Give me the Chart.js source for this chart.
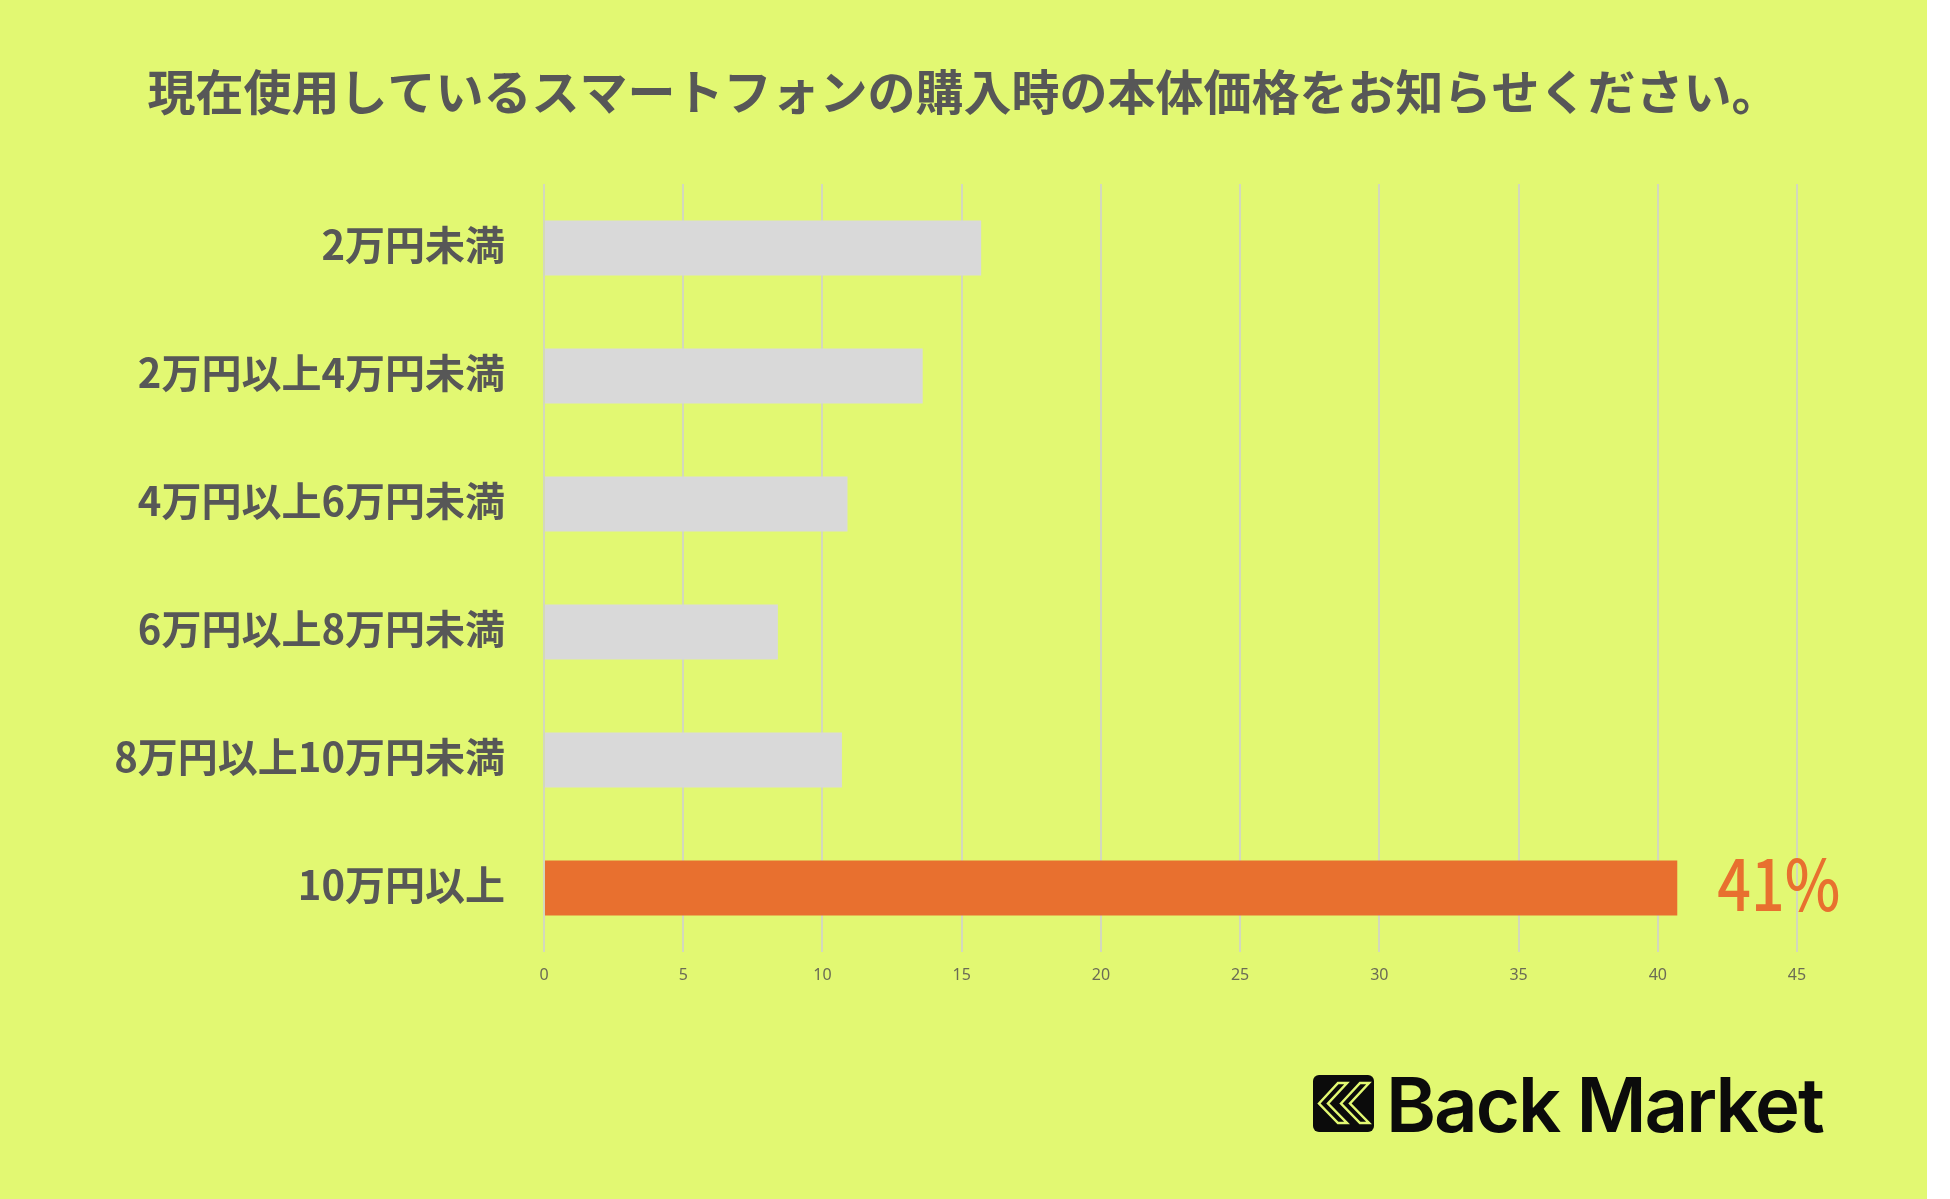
<!DOCTYPE html>
<html lang="ja">
<head>
<meta charset="utf-8">
<title>スマートフォン購入時の本体価格</title>
<script src="https://cdn.jsdelivr.net/npm/chart.js@4.4.1/dist/chart.umd.min.js"></script>
<style>
  html, body { margin: 0; padding: 0; background: #ffffff; }
  #wrap { width: 1927px; height: 1199px; background: #e2f872; }
  canvas { display: block; }
</style>
</head>
<body>
<div id="wrap"><canvas id="hargaChart" width="1927" height="1199"></canvas></div>
<script>
// Data kategori harga dan persentase
const titleText = '現在使用しているスマートフォンの購入時の本体価格をお知らせください。';
const categories = ['2万円未満', '2万円以上4万円未満', '4万円以上6万円未満', '6万円以上8万円未満', '8万円以上10万円未満', '10万円以上'];
const percentages = [15.7, 13.6, 10.9, 8.4, 10.7, 40.7];
const highlightIndex = 5;          // bar yang diberi warna oranye
const highlightLabel = '41%';
const axisMin = 0;
const axisMax = 45;
const axisStep = 5;

const jpFont = '"Noto Sans CJK JP", "Noto Sans", sans-serif';
const bgYellow = '#e2f872';
const orange = '#e8702f';
const grey = '#d9d9d9';
const textGrey = '#575757';

// Plugin kecil untuk judul, label 41% dan logo Back Market
const overlayPlugin = {
  id: 'overlay',
  afterDatasetsDraw(chart) {
    const bar = chart.getDatasetMeta(0).data[highlightIndex];
    const ctx = chart.ctx;
    ctx.save();
    ctx.fillStyle = orange;
    ctx.font = '500 70px ' + jpFont;
    ctx.textAlign = 'left';
    ctx.textBaseline = 'middle';
    ctx.fillText(highlightLabel, bar.x + 40, bar.y - 4, 123);
    ctx.restore();
  },
  afterDraw(chart) {
    const ctx = chart.ctx;
    ctx.save();

    // judul di tengah kanvas
    ctx.fillStyle = textGrey;
    ctx.font = 'bold 48px ' + jpFont;
    ctx.textAlign = 'center';
    ctx.textBaseline = 'middle';
    ctx.fillText(titleText, chart.width / 2, 92);

    // kotak ikon logo
    const x = 1313, y = 1075, w = 61, h = 57;
    ctx.fillStyle = '#0b0b0b';
    ctx.beginPath();
    ctx.roundRect(x, y, w, h, 6);
    ctx.fill();

    // dua chevron
    ctx.strokeStyle = bgYellow;
    ctx.lineWidth = 2.5;
    [0, 22].forEach((dx) => {
      const x0 = x + 6 + dx, cy = y + h / 2, top = y + 8, bot = y + 48, arm = 19, t = 9;
      ctx.beginPath();
      ctx.moveTo(x0, cy);
      ctx.lineTo(x0 + arm, top);
      ctx.lineTo(x0 + arm + t, top);
      ctx.lineTo(x0 + t, cy);
      ctx.lineTo(x0 + arm + t, bot);
      ctx.lineTo(x0 + arm, bot);
      ctx.closePath();
      ctx.stroke();
    });

    // teks logo
    ctx.fillStyle = '#0b0b0b';
    ctx.font = '600 76px Inter, "Noto Sans", sans-serif';
    ctx.letterSpacing = '-2px';
    ctx.textAlign = 'left';
    ctx.textBaseline = 'alphabetic';
    ctx.fillText('Back Market', 1386, 1132, 441);
    ctx.restore();
  }
};

function renderChart() {
  const ctx = document.getElementById('hargaChart').getContext('2d');
  new Chart(ctx, {
    type: 'bar',
    data: {
      labels: categories,
      datasets: [
        {
          data: percentages,
          backgroundColor: (c) => (c.dataIndex === highlightIndex ? orange : grey),
          borderWidth: 0,
          categoryPercentage: 1,
          barPercentage: 0.43,
        },
      ],
    },
    options: {
      indexAxis: 'y',
      responsive: false,
      animation: false,
      devicePixelRatio: 1,
      layout: { padding: { left: 0, right: 130, top: 184, bottom: 0 } },
      plugins: {
        legend: { display: false },
        tooltip: { enabled: false },
        title: { display: false },
      },
      scales: {
        x: {
          min: axisMin,
          max: axisMax,
          ticks: {
            stepSize: axisStep,
            color: '#6b6b55',
            font: { family: '"Noto Sans", sans-serif', size: 16 },
            padding: 14,
          },
          grid: { color: '#d3d8bd', lineWidth: 2, drawTicks: false },
          border: { display: false },
          afterFit: (scale) => { scale.height = 247; },
        },
        y: {
          ticks: {
            color: textGrey,
            font: { family: jpFont, size: 40, weight: 'bold' },
            padding: 31,
            labelOffset: -3,
          },
          grid: { display: false },
          border: { display: false },
          afterFit: (scale) => { scale.width = 544; },
        },
      },
    },
    plugins: [overlayPlugin],
  });
}

// Tunggu font lokal siap, lalu gambar chart
Promise.all([
  document.fonts.load('bold 48px "Noto Sans CJK JP"'),
  document.fonts.load('500 70px "Noto Sans CJK JP"'),
  document.fonts.load('600 76px Inter'),
  document.fonts.load('16px "Noto Sans"'),
]).catch(() => {}).then(renderChart);
</script>
</body>
</html>
